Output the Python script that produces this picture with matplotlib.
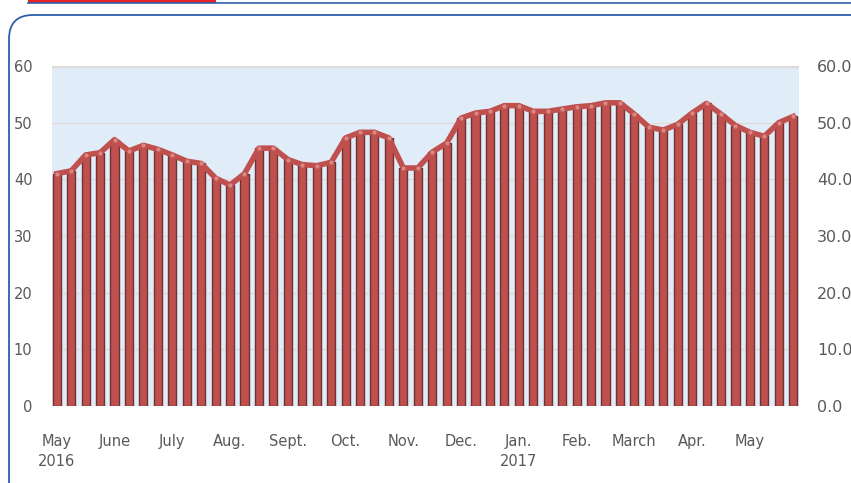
import matplotlib.pyplot as plt
from matplotlib.patches import FancyBboxPatch, Rectangle
from matplotlib.lines import Line2D
import numpy as np

# weekly index values, May 2016 - May 2017
values = [41.0, 41.5, 44.3, 44.7, 47.0, 45.0, 46.0, 45.3, 44.3, 43.2,
          42.8, 40.2, 39.0, 41.0, 45.5, 45.5, 43.5, 42.6, 42.4, 43.0,
          47.3, 48.3, 48.3, 47.3, 42.0, 42.0, 44.8, 46.4, 50.8, 51.7,
          52.0, 53.0, 53.0, 52.0, 52.0, 52.4, 52.8, 53.0, 53.5, 53.5,
          51.5, 49.2, 48.7, 49.7, 51.7, 53.4, 51.5, 49.5, 48.3, 47.6,
          50.0, 51.1]
month_labels = ['May\n2016', 'June', 'July', 'Aug.', 'Sept.', 'Oct.', 'Nov.',
                'Dec.', 'Jan.\n2017', 'Feb.', 'March', 'Apr.', 'May']
left_ticks = [0, 10, 20, 30, 40, 50, 60]

x = np.arange(len(values))
red = '#C0504D'
txt = '#595959'

fig = plt.figure(figsize=(8.51, 4.83), dpi=100)

# outer frame (pixel coords) and top strip
fig.patches.append(FancyBboxPatch((9, -30), 900, 483 - 15 + 30,
                                  boxstyle='round,pad=0,rounding_size=24',
                                  transform=None, fill=False,
                                  edgecolor='#2E5FA8', linewidth=1.3))
fig.lines.append(Line2D([28/851, 1], [1 - 2.5/483, 1 - 2.5/483], transform=fig.transFigure,
                        color='#2E5FA8', linewidth=1.2))
fig.patches.append(Rectangle((28/851, 1 - 3/483), 188/851, 3/483, transform=fig.transFigure,
                             facecolor='#E8202A', edgecolor='none'))

ax1 = fig.add_axes([52/851, (483-406)/483, (799-52)/851, (406-66)/483])
ax1.set_facecolor('#E0ECF8')
ax1.bar(x, values, width=0.56, color=red, edgecolor='#6E3230', linewidth=1.0, zorder=2)
ax1.plot(x, values, color=red, linewidth=4, solid_joinstyle='round', zorder=3)
ax1.plot(x, values, 'o', color='#D98886', markersize=2, zorder=4)

ax1.set_xlim(-0.33, len(values) - 0.6)
ax1.set_ylim(0, 60)
ax1.set_yticks(left_ticks)
ax1.set_yticklabels([str(t) for t in left_ticks])
ax1.set_xticks(x[::4])
ax1.set_xticklabels(month_labels, linespacing=1.45)
ax1.tick_params(length=0, labelsize=10.5, colors=txt)
ax1.tick_params(axis='x', pad=20)
ax1.tick_params(axis='y', pad=14)
ax1.grid(axis='y', color='#E2D8D4', linewidth=0.8, zorder=1)
for s in ax1.spines.values():
    s.set_visible(False)
ax1.axhline(60, color='#DDDDDD', linewidth=2.5, zorder=1)

ax2 = ax1.twinx()
ax2.set_ylim(0, 60)
ax2.set_yticks(left_ticks)
ax2.set_yticklabels(['%.1f' % t for t in left_ticks])
ax2.tick_params(length=0, labelsize=11.5, colors=txt, pad=13)
for s in ax2.spines.values():
    s.set_visible(False)

fig.savefig('out.png', dpi=100)
